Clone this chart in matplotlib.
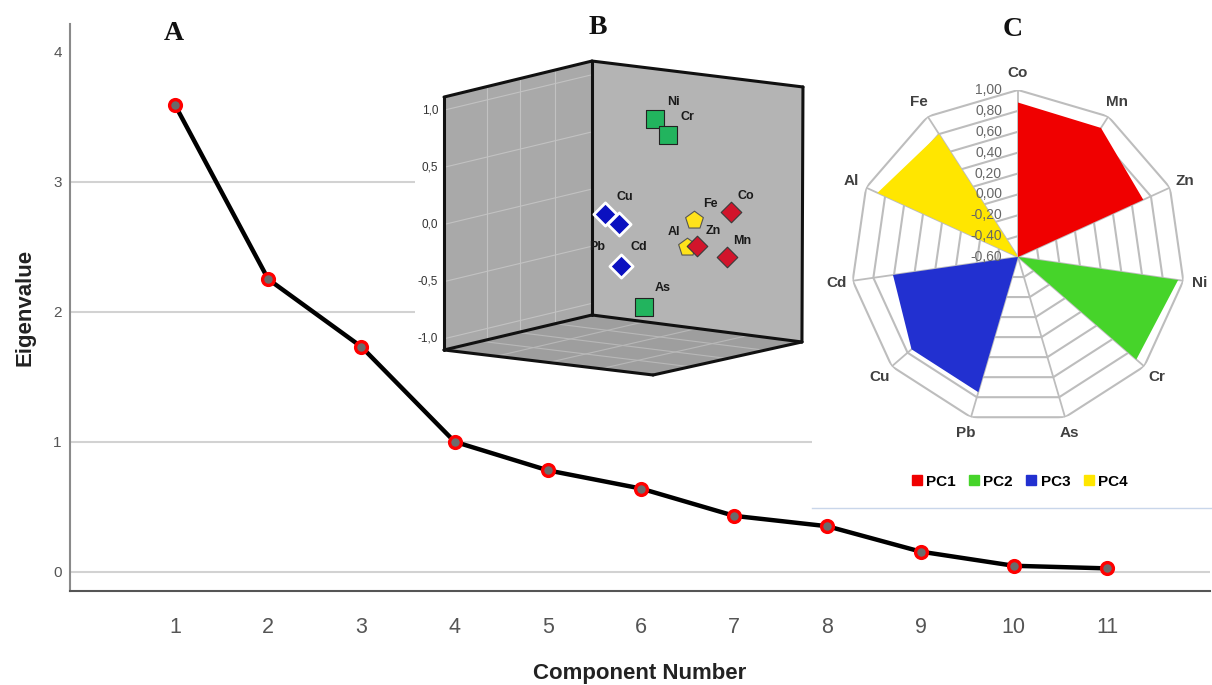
import numpy as np
import matplotlib
matplotlib.use("Agg")
import matplotlib.pyplot as plt
from matplotlib.lines import Line2D
from matplotlib.patches import Polygon

plt.rcParams["font.family"] = ["Liberation Sans", "DejaVu Sans"]

# --- A: scree plot ---
components = np.arange(1, 12)
eigenvalues = [3.59, 2.25, 1.73, 1.00, 0.78, 0.64, 0.43, 0.35, 0.155, 0.046, 0.026]

# --- B: loading plot (horizontal = projected depth, vertical = loading) ---
b_elements = ["Ni", "Cr", "Cu", "Pb", "Cd", "Fe", "Al", "Zn", "Co", "Mn", "As"]
b_u = [0.551, 0.665, 0.114, 0.240, 0.258, 0.895, 0.829, 0.916, 1.213, 1.178, 0.455]
b_v = [0.923, 0.783, 0.092, 0.004, -0.360, 0.039, -0.194, -0.188, 0.112, -0.287, -0.719]
b_group = ["PC2", "PC2", "PC3", "PC3", "PC3", "PC4", "PC4", "PC1", "PC1", "PC1", "PC2"]
b_ticks = [1.0, 0.5, 0.0, -0.5, -1.0]

# --- C: radar of loadings ---
radar_elements = ["Co", "Mn", "Zn", "Ni", "Cr", "As", "Pb", "Cu", "Cd", "Al", "Fe"]
pc1 = [0.88, 0.87, 0.72, -0.6, -0.6, -0.6, -0.6, -0.6, -0.6, -0.6, -0.6]
pc2 = [-0.6, -0.6, -0.6, 0.95, 0.90, -0.6, -0.6, -0.6, -0.6, -0.6, -0.6]
pc3 = [-0.6, -0.6, -0.6, -0.6, -0.6, -0.6, 0.75, 0.75, 0.61, -0.6, -0.6]
pc4 = [-0.6, -0.6, -0.6, -0.6, -0.6, -0.6, -0.6, -0.6, -0.6, 0.88, 0.80]
radar_levels = [-0.6, -0.4, -0.2, 0.0, 0.2, 0.4, 0.6, 0.8, 1.0]

pc_colors = {"PC1": "#f00000", "PC2": "#46d42a", "PC3": "#2230d0", "PC4": "#ffe600"}

W, H = 1212, 685
fig = plt.figure(figsize=(W / 100, H / 100), dpi=100)


def px_box(x0, y0, x1, y1):
    return [x0 / W, 1 - y1 / H, (x1 - x0) / W, (y1 - y0) / H]


# ---------------- A ----------------
ax = fig.add_axes(px_box(70, 24, 1210, 591))
ax.set_xlim(-0.127, 12.105)
ax.set_ylim(-0.148, 4.213)
for g in [0, 1, 2, 3]:
    ax.axhline(g, color="#d2d2d2", lw=1.5, zorder=0)
ax.plot(components, eigenvalues, color="black", lw=3.2, zorder=2,
        marker="o", ms=8.5, mfc="#6b6b6b", mec="#ff0000", mew=2.4)
ax.set_xticks(components)
ax.set_yticks([0, 1, 2, 3, 4])
ax.tick_params(axis="x", length=0, pad=19, labelsize=15.5, labelcolor="#555555")
ax.tick_params(axis="y", length=0, pad=6, labelsize=11, labelcolor="#555555")
for s in ["top", "right"]:
    ax.spines[s].set_visible(False)
ax.spines["left"].set_color("#8a8a8a")
ax.spines["left"].set_linewidth(1.5)
ax.spines["bottom"].set_color("#555555")
ax.spines["bottom"].set_linewidth(1.5)
ax.set_xlabel("Component Number", fontsize=16, fontweight="bold", color="#222222", labelpad=18)
ax.set_ylabel("Eigenvalue", fontsize=16, fontweight="bold", color="#222222", labelpad=13)

# ---------------- B ----------------
bx = fig.add_axes(px_box(415, 40, 812, 395))
bx.set_xlim(-1.549, 1.925)
bx.set_ylim(-1.492, 1.614)
bx.set_xticks([])
bx.set_yticks([])
for s in bx.spines.values():
    s.set_visible(False)
bx.set_facecolor("white")

back_top, back_bot = (0.0, 1.430), (0.0, -0.792)
left_top, left_bot = (-1.295, 1.115), (-1.295, -1.098)
right_top, right_bot = (1.846, 1.203), (1.837, -1.028)
floor_front = (0.534, -1.317)

bx.add_patch(Polygon([left_bot, left_top, back_top, back_bot], closed=True,
                     fc="#a9a9a9", ec="none", zorder=1))
bx.add_patch(Polygon([back_bot, back_top, right_top, right_bot], closed=True,
                     fc="#b4b4b4", ec="none", zorder=1))
bx.add_patch(Polygon([left_bot, back_bot, right_bot, floor_front], closed=True,
                     fc="#9e9e9e", ec="none", zorder=1))

# left wall grid
rise = 0.31
for t in b_ticks:
    bx.plot([left_top[0], 0], [t, t + rise], color="#c2c2c2", lw=0.8, zorder=1.5)
for uu in [-0.919, -0.630, -0.324]:
    f = (uu - left_top[0]) / (0 - left_top[0])
    yt = left_top[1] + f * (back_top[1] - left_top[1])
    yb = left_bot[1] + f * (back_bot[1] - left_bot[1])
    bx.plot([uu, uu], [yb, yt], color="#c2c2c2", lw=0.8, zorder=1.5)
# floor grid
L, B, R, F = map(np.array, [left_bot, back_bot, right_bot, floor_front])
for f in [0.25, 0.5, 0.75]:
    p, q = L + f * (B - L), F + f * (R - F)
    bx.plot([p[0], q[0]], [p[1], q[1]], color="#b8b8b8", lw=0.8, zorder=1.5)
    p, q = L + f * (F - L), B + f * (R - B)
    bx.plot([p[0], q[0]], [p[1], q[1]], color="#b8b8b8", lw=0.8, zorder=1.5)

# box outline
edge_kw = dict(color="#111111", lw=2.2, zorder=2, solid_capstyle="round")
for a, b in [(left_bot, left_top), (left_top, back_top), (back_top, right_top),
             (right_top, right_bot), (back_top, back_bot), (left_bot, back_bot),
             (back_bot, right_bot), (left_bot, floor_front), (floor_front, right_bot)]:
    bx.plot([a[0], b[0]], [a[1], b[1]], **edge_kw)

for t in b_ticks:
    lab = f"{t:.1f}".replace(".", ",")
    bx.text(left_top[0] - 0.05, t, lab, ha="right", va="center", fontsize=8.5, color="#333333")

marker_style = {
    "PC1": dict(marker="D", s=110, c="#d2142b", edgecolors="#3a3a3a", linewidths=0.8),
    "PC2": dict(marker="s", s=160, c="#22b45e", edgecolors="#222222", linewidths=0.8),
    "PC3": dict(marker="D", s=140, c="#0a10c0", edgecolors="white", linewidths=2.0),
    "PC4": dict(marker="p", s=180, c="#ffe21a", edgecolors="#555555", linewidths=0.8),
}
for grp in ["PC3", "PC2", "PC4", "PC1"]:
    idx = [i for i, g in enumerate(b_group) if g == grp]
    bx.scatter([b_u[i] for i in idx], [b_v[i] for i in idx], zorder=3, **marker_style[grp])

label_offsets = {"Ni": (13, 12), "Cr": (14, 13), "Cu": (14.5, 12), "Pb": (-16, -16.5),
                 "Cd": (12.5, 13.5), "Fe": (11.5, 11.5), "Al": (-9.5, 10.5), "Zn": (12, 10.5),
                 "Co": (11, 11), "Mn": (11, 11.5), "As": (13.5, 13.5)}
for el, u, v in zip(b_elements, b_u, b_v):
    bx.annotate(el, (u, v), xytext=label_offsets[el], textcoords="offset points",
                ha="center", va="center", fontsize=9, fontweight="bold",
                color="#1a1a1a", zorder=4)

# ---------------- C ----------------
cover = fig.add_axes(px_box(812, 0, 1212, 508))
cover.set_xticks([])
cover.set_yticks([])
for s in ["top", "left", "right"]:
    cover.spines[s].set_visible(False)
cover.spines["bottom"].set_color("#c9d6ea")
cover.spines["bottom"].set_linewidth(1.0)

rx = fig.add_axes(px_box(851, 90, 1185, 424), projection="polar")
rx.set_theta_zero_location("N")
rx.set_theta_direction(-1)
rx.set_ylim(-0.6, 1.0)
rx.grid(False)
rx.set_xticks([])
rx.set_yticks([])
rx.spines["polar"].set_visible(False)
rx.patch.set_alpha(0)

n = len(radar_elements)
theta = np.linspace(0, 2 * np.pi, n, endpoint=False)
theta_c = np.append(theta, theta[0])

for lev in radar_levels[1:]:
    rx.plot(theta_c, [lev] * (n + 1), color="#bdbdbd", lw=1.5, zorder=1)
for t in theta:
    rx.plot([t, t], [-0.6, 1.0], color="#bdbdbd", lw=1.3, zorder=1)

for name, vals in [("PC1", pc1), ("PC2", pc2), ("PC3", pc3), ("PC4", pc4)]:
    rx.fill(theta_c, vals + vals[:1], color=pc_colors[name], lw=0, zorder=3)

for lev in radar_levels:
    lab = f"{lev:.2f}".replace(".", ",")
    rx.annotate(lab, (0, lev), xytext=(-11.5, 0), textcoords="offset points",
                ha="right", va="center", fontsize=10, color="#666666", zorder=5)

for t, el in zip(theta, radar_elements):
    rx.text(t, 1.16, el, ha="center", va="center", fontsize=11, fontweight="bold",
            color="#404040", zorder=5)

handles = [Line2D([], [], marker="s", ls="none", color=pc_colors[k], markersize=7)
           for k in ["PC1", "PC2", "PC3", "PC4"]]
fig.legend(handles, ["PC1", "PC2", "PC3", "PC4"], loc="center",
           bbox_to_anchor=(1020 / W, 1 - 481.7 / H), ncol=4, frameon=False,
           handlelength=0.6, handletextpad=0.3, columnspacing=0.9,
           prop={"weight": "bold", "size": 11})

# panel letters
for letter, x, y in [("A", 174, 33), ("B", 598, 27), ("C", 1013, 30)]:
    fig.text(x / W, 1 - y / H, letter, ha="center", va="center", fontsize=20,
             fontweight="bold", family=["Liberation Serif", "DejaVu Serif"], color="#111111")

fig.savefig("out.png", dpi=100)
